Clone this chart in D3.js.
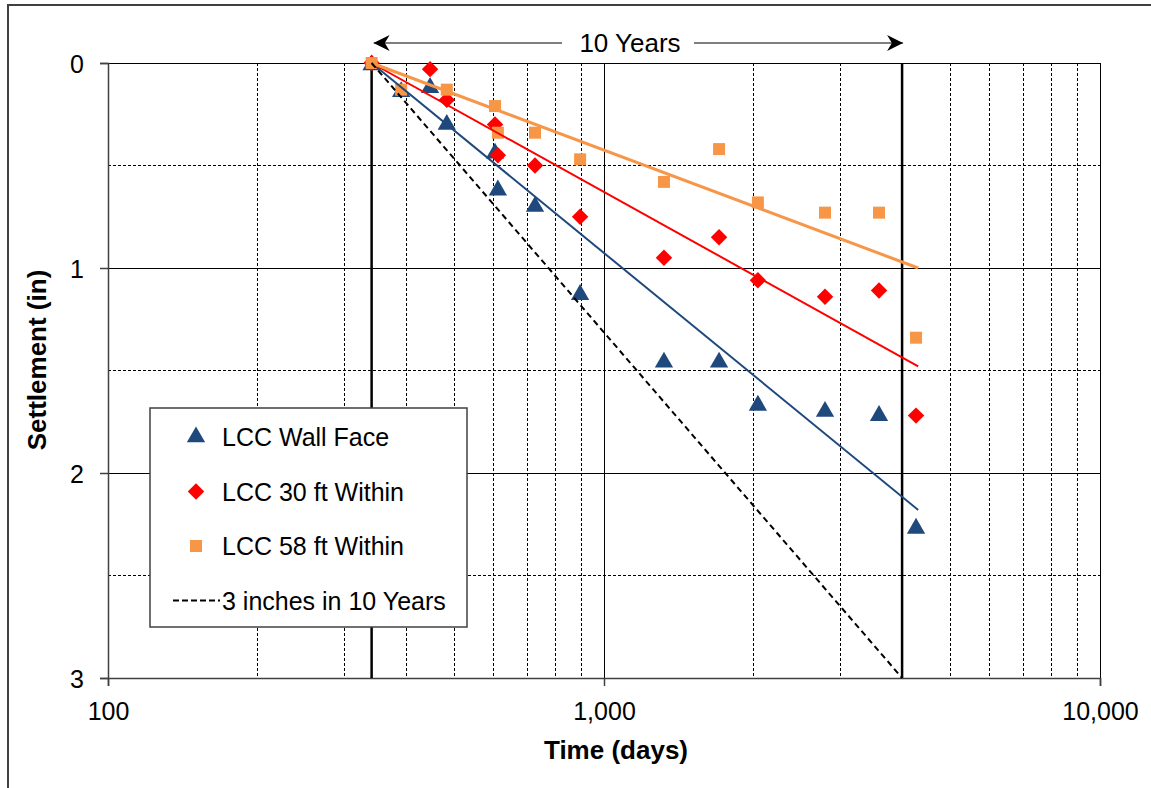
<!DOCTYPE html>
<html>
<head>
<meta charset="utf-8">
<script src="https://cdn.jsdelivr.net/npm/d3@7"></script>
<style>
  body { margin: 0; background: #fff; }
  text { font-family: "Liberation Sans", Arial, sans-serif; }
  .grid { shape-rendering: crispEdges; }
</style>
</head>
<body>
<script>
// time of each reading (days) and settlement (in)
var wallDays = [340, 390, 446, 482, 603, 611, 726, 895, 1321, 1706, 2043, 2790, 3585, 4257],
    wallVals = [0.01, 0.14, 0.12, 0.30, 0.44, 0.62, 0.70, 1.13, 1.46, 1.46, 1.67, 1.70, 1.72, 2.27];
var ft30Days = [340, 446, 482, 603, 611, 726, 895, 1321, 1706, 2043, 2790, 3585, 4257],
    ft30Vals = [0.0, 0.03, 0.18, 0.30, 0.45, 0.50, 0.75, 0.95, 0.85, 1.06, 1.14, 1.11, 1.72];
var ft58Days = [340, 390, 482, 603, 611, 726, 895, 1321, 1706, 2043, 2790, 3585, 4257],
    ft58Vals = [0.0, 0.13, 0.13, 0.21, 0.34, 0.34, 0.47, 0.58, 0.42, 0.68, 0.73, 0.73, 1.34];

// log trendlines (end points)
var trendDays = [340, 4300],
    wallTrend = [0.0, 2.18],
    ft30Trend = [0.0, 1.48],
    ft58Trend = [0.0, 1.0];

// 3 inches in 10 years reference
var refDays = [340, 3990],
    refVals = [0, 3];
var tenYears = [340, 3990];

var xTicks = [100, 1000, 10000],
    yTicks = [0, 1, 2, 3],
    yMinor = [0.5, 1.5, 2.5];

var seriesNames = ["LCC Wall Face", "LCC 30 ft Within", "LCC 58 ft Within", "3 inches in 10 Years"];

var margin = {top: 63, left: 108},
    width = 992, height = 615;

var x = d3.scaleLog().domain([100, 10000]).range([0, width]),
    y = d3.scaleLinear().domain([0, 3]).range([0, height]);

var svg = d3.select("body").append("svg")
    .attr("width", 1151)
    .attr("height", 788);

// outer frame
svg.append("rect")
    .attr("x", 8).attr("y", 5)
    .attr("width", 1200).attr("height", 900)
    .style("fill", "none")
    .style("stroke", "#404040")
    .style("stroke-width", 2);

var g = svg.append("g")
    .attr("transform", "translate(" + margin.left + "," + margin.top + ")");

// minor vertical grid
var minorX = [];
[100, 1000].forEach(function(d) {
  for (var k = 2; k <= 9; k++) minorX.push(d * k);
});
g.selectAll(".vminor")
    .data(minorX)
  .enter().append("line")
    .attr("class", "grid")
    .attr("x1", function(d) { return x(d); })
    .attr("x2", function(d) { return x(d); })
    .attr("y1", 0).attr("y2", height)
    .style("stroke", "#000")
    .style("stroke-width", 1)
    .style("stroke-dasharray", "3,2");

g.selectAll(".hminor")
    .data(yMinor)
  .enter().append("line")
    .attr("class", "grid")
    .attr("x1", 0).attr("x2", width)
    .attr("y1", function(d) { return y(d); })
    .attr("y2", function(d) { return y(d); })
    .style("stroke", "#000")
    .style("stroke-width", 1)
    .style("stroke-dasharray", "3,2");

// major grid
g.selectAll(".hmajor")
    .data(yTicks)
  .enter().append("line")
    .attr("class", "grid")
    .attr("x1", 0).attr("x2", width)
    .attr("y1", function(d) { return y(d); })
    .attr("y2", function(d) { return y(d); })
    .style("stroke", "#000")
    .style("stroke-width", 1);

g.selectAll(".vmajor")
    .data(xTicks)
  .enter().append("line")
    .attr("class", "grid")
    .attr("x1", function(d) { return x(d); })
    .attr("x2", function(d) { return x(d); })
    .attr("y1", 0).attr("y2", height)
    .style("stroke", "#000")
    .style("stroke-width", 1);

// axes
var xAxis = d3.axisBottom(x)
    .tickValues(xTicks)
    .tickSize(8)
    .tickPadding(16)
    .tickFormat(d3.format(","));
var yAxis = d3.axisLeft(y)
    .tickValues(yTicks)
    .tickSize(8)
    .tickPadding(16)
    .tickFormat(d3.format("d"));

g.append("g")
    .attr("class", "axis axis--x")
    .attr("transform", "translate(0," + height + ")")
    .call(xAxis);
g.append("g")
    .attr("class", "axis axis--y")
    .call(yAxis);

g.selectAll(".axis path, .axis line")
    .style("stroke", "#404040")
    .style("stroke-width", 1.5);
g.selectAll(".axis text")
    .style("font-size", "25px")
    .style("fill", "#000");
g.selectAll(".axis--y text").attr("dy", "0.36em");

// 10 year bounds
g.selectAll(".tenyr")
    .data(tenYears)
  .enter().append("line")
    .attr("x1", function(d) { return x(d); })
    .attr("x2", function(d) { return x(d); })
    .attr("y1", 0).attr("y2", height)
    .style("stroke", "#000")
    .style("stroke-width", 2.5);

// markers
var sym = {
  wall: d3.symbol().type(d3.symbolTriangle).size(145),
  ft30: d3.symbol().type(d3.symbolSquare).size(135),
  ft58: d3.symbol().type(d3.symbolSquare).size(144)
};

function drawPoints(days, vals, shape, color, rot) {
  g.append("g").selectAll("path")
      .data(days)
    .enter().append("path")
      .attr("d", shape)
      .attr("transform", function(d, i) {
        return "translate(" + x(d) + "," + y(vals[i]) + ")" + (rot ? " rotate(45)" : "");
      })
      .style("fill", color);
}

drawPoints(wallDays, wallVals, sym.wall, "#1F497D");
drawPoints(ft30Days, ft30Vals, sym.ft30, "#FF0000", true);
drawPoints(ft58Days, ft58Vals, sym.ft58, "#F79646");

// trendlines
var line = d3.line()
    .x(function(d) { return x(d[0]); })
    .y(function(d) { return y(d[1]); });

function drawLine(days, vals, color, w, dash) {
  g.append("path")
      .datum(d3.zip(days, vals))
      .attr("d", line)
      .style("fill", "none")
      .style("stroke", color)
      .style("stroke-width", w)
      .style("stroke-dasharray", dash || null);
}

drawLine(trendDays, wallTrend, "#1F497D", 2);
drawLine(trendDays, ft30Trend, "#FF0000", 2);
drawLine(trendDays, ft58Trend, "#F79646", 3);
drawLine(refDays, refVals, "#000", 2, "6,4");

// 10 years arrow
var defs = svg.append("defs");
defs.append("marker")
    .attr("id", "arrow")
    .attr("viewBox", "0 0 10 10")
    .attr("refX", 10).attr("refY", 5)
    .attr("markerWidth", 16).attr("markerHeight", 16)
    .attr("markerUnits", "userSpaceOnUse")
    .attr("orient", "auto")
  .append("path")
    .attr("d", "M0,0 L10,5 L0,10 L3,5 Z")
    .style("fill", "#000");

var arrowY = -20, labelX = 630 - margin.left;
g.append("line")
    .attr("x1", labelX - 68).attr("x2", x(tenYears[0]) + 2)
    .attr("y1", arrowY).attr("y2", arrowY)
    .style("stroke", "#000").style("stroke-width", 1.2)
    .attr("marker-end", "url(#arrow)");
g.append("line")
    .attr("x1", labelX + 64).attr("x2", x(tenYears[1]) + 1)
    .attr("y1", arrowY).attr("y2", arrowY)
    .style("stroke", "#000").style("stroke-width", 1.2)
    .attr("marker-end", "url(#arrow)");
g.append("text")
    .attr("x", labelX)
    .attr("y", arrowY)
    .attr("dy", "0.36em")
    .style("text-anchor", "middle")
    .style("font-size", "26px")
    .text("10 Years");

// axis titles
svg.append("text")
    .attr("x", 616).attr("y", 759)
    .style("text-anchor", "middle")
    .style("font-size", "26px")
    .style("font-weight", "bold")
    .text("Time (days)");
svg.append("text")
    .attr("transform", "translate(46,360) rotate(-90)")
    .style("text-anchor", "middle")
    .style("font-size", "26px")
    .style("font-weight", "bold")
    .text("Settlement (in)");

// legend
var legend = svg.append("g")
    .attr("transform", "translate(150,408)");
legend.append("rect")
    .attr("width", 317).attr("height", 219)
    .style("fill", "#fff")
    .style("stroke", "#404040")
    .style("stroke-width", 1.5);

var legendShapes = [sym.wall, sym.ft30, sym.ft58, null],
    legendColors = ["#1F497D", "#FF0000", "#F79646", "#000"];

var item = legend.selectAll(".legend")
    .data(seriesNames)
  .enter().append("g")
    .attr("class", "legend")
    .attr("transform", function(d, i) { return "translate(0," + (29 + i * 54.5) + ")"; });

item.each(function(d, i) {
  var el = d3.select(this);
  if (legendShapes[i]) {
    el.append("path")
        .attr("d", legendShapes[i])
        .attr("transform", "translate(46,0)" + (i === 1 ? " rotate(45)" : ""))
        .style("fill", legendColors[i]);
  } else {
    el.append("line")
        .attr("x1", 23).attr("x2", 70)
        .style("stroke", "#000").style("stroke-width", 2)
        .style("stroke-dasharray", "6,3");
  }
  el.append("text")
      .attr("x", 72)
      .attr("dy", "0.36em")
      .style("font-size", "25px")
      .text(d);
});
</script>
</body>
</html>
